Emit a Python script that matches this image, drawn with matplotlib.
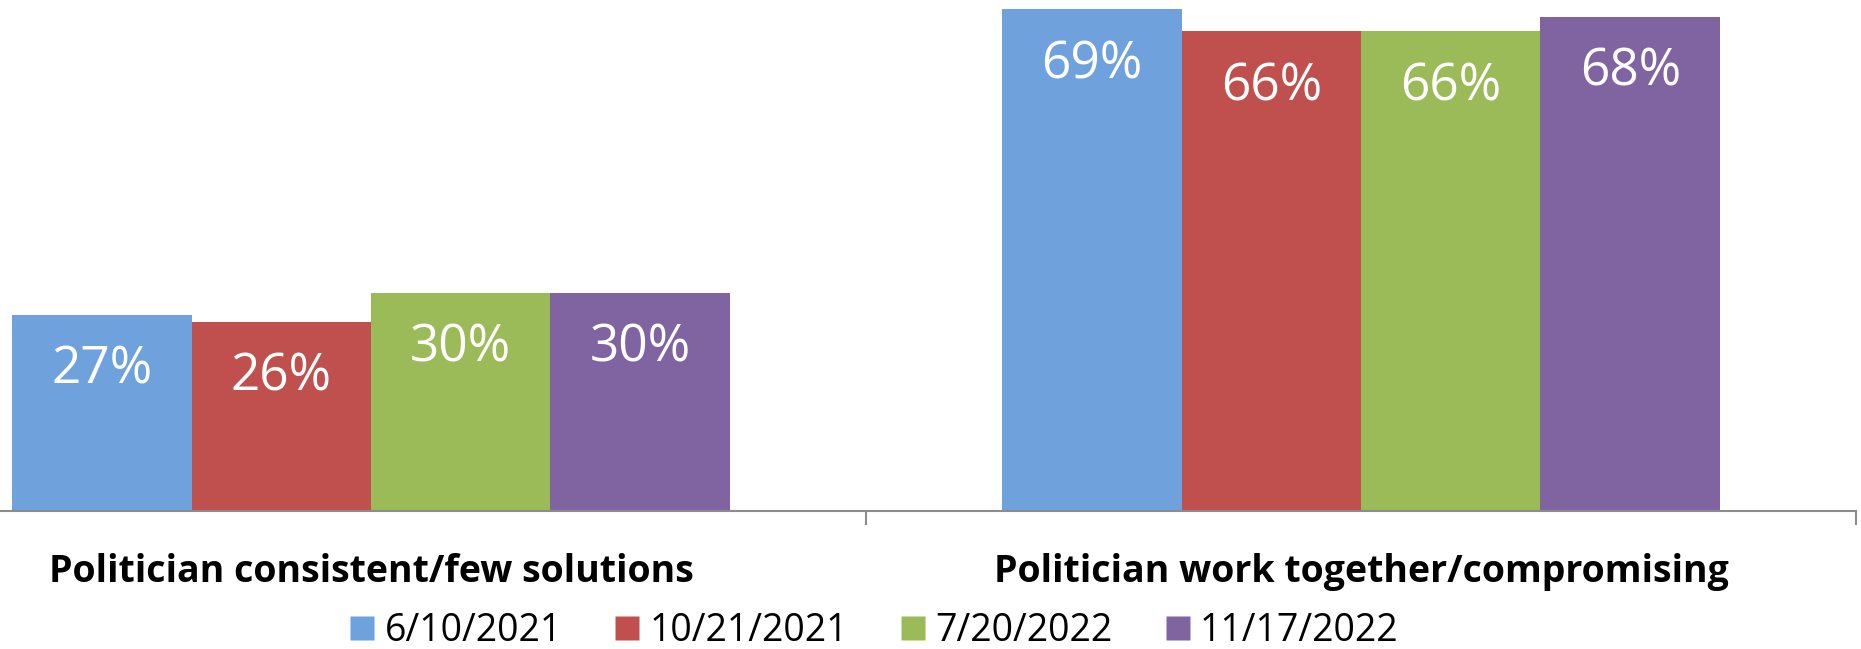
import matplotlib
matplotlib.use("Agg")
import matplotlib.pyplot as plt
from matplotlib.lines import Line2D

categories = ["Politician consistent/few solutions", "Politician work together/compromising"]
series_names = ["6/10/2021", "10/21/2021", "7/20/2022", "11/17/2022"]
s_0610_2021 = [27, 69]
s_1021_2021 = [26, 66]
s_0720_2022 = [30, 66]
s_1117_2022 = [30, 68]
series_values = [s_0610_2021, s_1021_2021, s_0720_2022, s_1117_2022]
colors = ["#6FA1DC", "#C0504D", "#9BBB59", "#8064A2"]

plt.rcParams['font.family'] = ['Open Sans', 'DejaVu Sans']

W, H = 1861, 649
fig = plt.figure(figsize=(W / 100, H / 100), dpi=100)
# axes spans beyond left edge (chart cropped in reference)
ax_left_px, ax_right_px = -124, 1856
base_px, top_px = 511, 2
ax = fig.add_axes([ax_left_px / W, (H - base_px) / H,
                   (ax_right_px - ax_left_px) / W, (base_px - top_px) / H])

n = len(series_values)
bw = 0.1813
x = list(range(len(categories)))
for i, (vals, c) in enumerate(zip(series_values, colors)):
    xs = [xi + (i - (n - 1) / 2) * bw for xi in x]
    ax.bar(xs, vals, width=bw, color=c, edgecolor='none', zorder=2)
    for xv, v in zip(xs, vals):
        ax.annotate(f"{v}%", xy=(xv, v), xytext=(0, -69), textcoords='offset pixels',
                    ha='center', va='baseline', color='white', fontsize=37)

ax.set_xlim(-0.5, 1.5)
ax.set_ylim(0, 70)
ax.set_yticks([])
for s in ['top', 'right', 'left']:
    ax.spines[s].set_visible(False)
ax.spines['bottom'].set_color('#8C8C8C')
ax.spines['bottom'].set_linewidth(1.5)
ax.set_xticks(x)
ax.set_xticklabels(categories, fontsize=27, fontweight='bold')
ax.tick_params(axis='x', which='major', length=0, pad=30)
ax.set_xticks([-0.5, 0.5, 1.5], minor=True)
ax.tick_params(axis='x', which='minor', length=10, width=1.5, color='#8C8C8C', direction='out')

handles = [Line2D([], [], linestyle='none', marker='s', markersize=17.3,
                  markerfacecolor=c, markeredgecolor='none') for c in colors]
fig.legend(handles, series_names, loc='center', bbox_to_anchor=(874.5 / W, 1 - 631 / H),
           ncol=4, frameon=False, fontsize=27, handlelength=0.64, handletextpad=0.28,
           columnspacing=1.41, borderaxespad=0, borderpad=0)

fig.savefig("out.png", dpi=100)
